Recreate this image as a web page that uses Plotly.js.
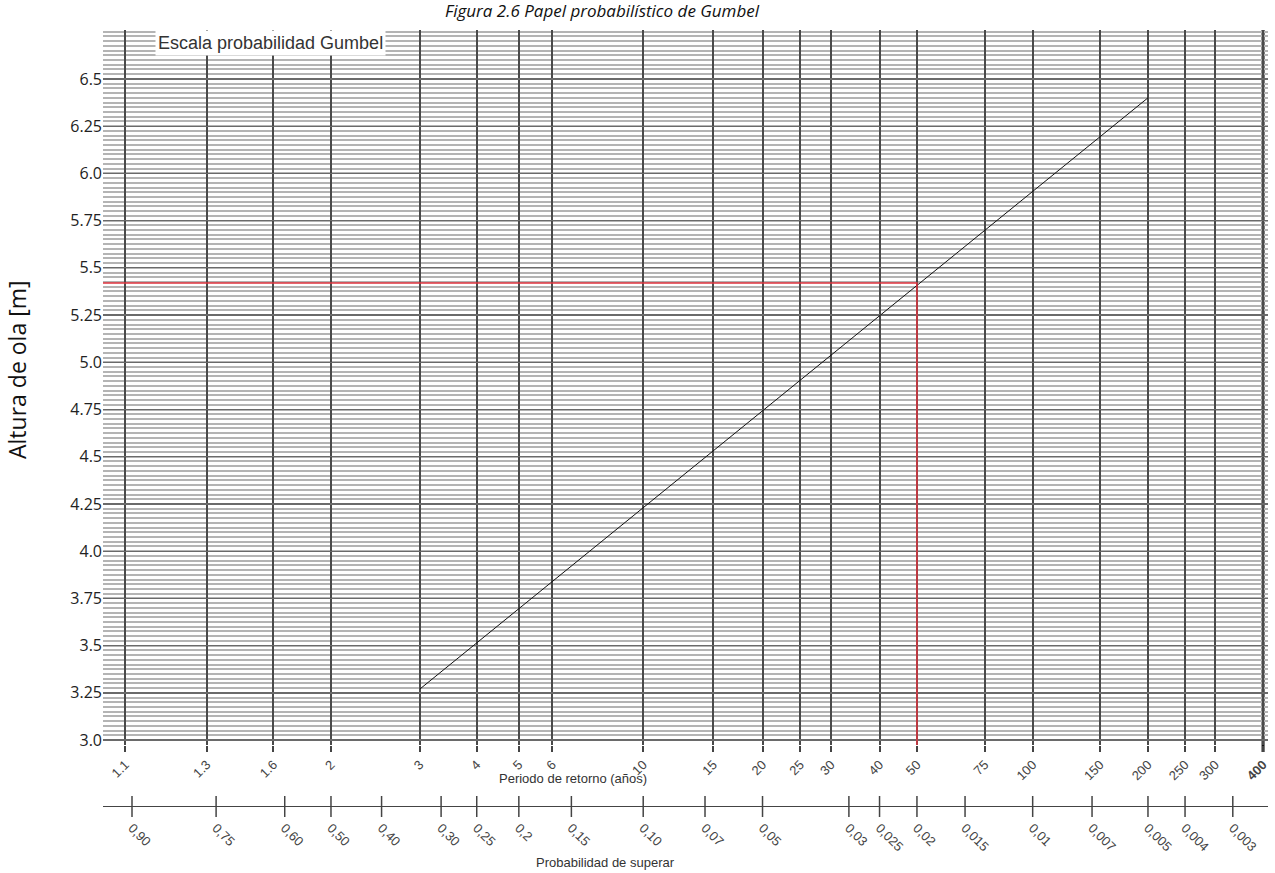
<!DOCTYPE html>
<html>
<head>
<meta charset="utf-8">
<script src="https://cdn.plot.ly/plotly-3.0.1.min.js"></script>
<style>html,body{margin:0;padding:0;background:#fff;}#chart{width:1275px;height:873px;}</style>
</head>
<body>
<div id="chart"></div>
<script>
// ---- data ----
const returnPeriods = [1.1, 1.3, 1.6, 2, 3, 4, 5, 6, 10, 15, 20, 25, 30, 40, 50, 75, 100, 150, 200, 250, 300, 400];
const periodLabels = ['1.1','1.3','1.6','2','3','4','5','6','10','15','20','25','30','40','50','75','100','150','200','250','300','<b>400</b>'];
const exceedProb = [0.90, 0.75, 0.60, 0.50, 0.40, 0.30, 0.25, 0.2, 0.15, 0.10, 0.07, 0.05, 0.03, 0.025, 0.02, 0.015, 0.01, 0.007, 0.005, 0.004, 0.003];
const probLabels = ['0,90','0,75','0,60','0,50','0,40','0,30','0,25','0,2','0,15','0,10','0,07','0,05','0,03','0,025','0,02','0,015','0,01','0,007','0,005','0,004','0,003'];
const heightTicks = [3.0, 3.25, 3.5, 3.75, 4.0, 4.25, 4.5, 4.75, 5.0, 5.25, 5.5, 5.75, 6.0, 6.25, 6.5];
const heightLabels = ['3.0','3.25','3.5','3.75','4.0','4.25','4.5','4.75','5.0','5.25','5.5','5.75','6.0','6.25','6.5'];
const strongLines = [3.0, 3.5, 4.0, 4.5, 5.0, 5.5, 6.0, 6.5];
const boldPeriod = 400;
const fitT = [3, 200];
const fitH = [3.27, 6.40];
const designT = 50;
const designH = 5.42;

// ---- Gumbel reduced variate ----
const gumbelT = T => -Math.log(-Math.log(1 - 1 / T));
const gumbelP = p => -Math.log(-Math.log(1 - p));

const xRange = [-1.009, 6.02];
const yRange = [2.974, 6.759];

const W = 1275, H = 873;
const mL = 103, mR = 7, mT = 30, mB = 56;
const plotH = H - mT - mB;     // 787
const plotW = W - mL - mR;     // 1165
const py = p => (H - mB - p) / plotH;   // pixel y -> paper
const px = p => (p - mL) / plotW;       // pixel x -> paper

const traces = [
  {
    x: fitT.map(gumbelT), y: fitH, mode: 'lines',
    line: {color: '#111', width: 1}, xaxis: 'x', yaxis: 'y', hoverinfo: 'skip'
  },
  {
    x: [xRange[0], gumbelT(designT), gumbelT(designT)],
    y: [designH, designH, yRange[0]],
    mode: 'lines', line: {color: '#e0343f', width: 1.5}, xaxis: 'x', yaxis: 'y', hoverinfo: 'skip'
  },
  {
    x: exceedProb.map(gumbelP), y: exceedProb.map(() => 0),
    mode: 'markers', marker: {symbol: 'line-ns-open', size: 20, color: '#444', line: {color: '#444', width: 1.5}},
    xaxis: 'x2', yaxis: 'y2', hoverinfo: 'skip'
  }
];

const shapes = strongLines.map(v => ({
  type: 'line', xref: 'paper', yref: 'y', x0: 0, x1: 1, y0: v, y1: v,
  line: {color: '#1a1a1a', width: 1.3}, layer: 'below'
}));
shapes.push({
  type: 'line', xref: 'x', yref: 'paper', x0: gumbelT(boldPeriod), x1: gumbelT(boldPeriod),
  y0: py(752), y1: 1, line: {color: '#111', width: 3}, layer: 'below'
});

const layout = {
  width: W, height: H,
  margin: {l: mL, r: mR, t: mT, b: mB},
  paper_bgcolor: '#fff', plot_bgcolor: '#fff',
  showlegend: false,
  font: {family: 'Arial, Liberation Sans, sans-serif', color: '#333'},
  annotations: [
    {
      text: '<i>Figura 2.6 Papel probabilístico de Gumbel</i>', xref: 'paper', yref: 'paper',
      x: px(443), y: py(11), xanchor: 'left', yanchor: 'middle', showarrow: false,
      font: {family: 'Open Sans, Noto Sans, sans-serif', size: 17, color: '#111'}
    },
    {
      text: 'Escala probabilidad Gumbel', xref: 'paper', yref: 'paper',
      x: px(155), y: py(43), xanchor: 'left', yanchor: 'middle', showarrow: false,
      bgcolor: '#fff', borderpad: 2,
      font: {family: 'Arial, Liberation Sans, sans-serif', size: 18, color: '#333'}
    },
    {
      text: 'Periodo de retorno (años)', xref: 'paper', yref: 'paper',
      x: px(573), y: py(778), xanchor: 'center', yanchor: 'middle', showarrow: false,
      font: {family: 'Arial, Liberation Sans, sans-serif', size: 13, color: '#333'}
    },
    {
      text: 'Probabilidad de superar', xref: 'paper', yref: 'paper',
      x: px(605), y: py(862), xanchor: 'center', yanchor: 'middle', showarrow: false,
      font: {family: 'Arial, Liberation Sans, sans-serif', size: 13, color: '#333'}
    },
    {
      text: 'Altura de ola [m]', xref: 'paper', yref: 'paper', textangle: -90,
      x: px(17), y: py(370), xanchor: 'center', yanchor: 'middle', showarrow: false,
      font: {family: 'Open Sans, Noto Sans, sans-serif', size: 23, color: '#111'}
    }
  ],
  xaxis: {
    domain: [0, 1], anchor: 'y', range: xRange,
    tickmode: 'array', tickvals: returnPeriods.map(gumbelT), ticktext: periodLabels,
    tickangle: -45, ticks: 'outside', ticklen: 6, tickcolor: '#444', tickwidth: 2,
    tickfont: {family: 'Arial, Liberation Sans, sans-serif', size: 13, color: '#444'},
    showgrid: true, gridcolor: '#4a4a4a', gridwidth: 2,
    zeroline: false, showline: false, fixedrange: true
  },
  yaxis: {
    domain: [(745 - (H - mB)) / -plotH, 1], anchor: 'x', range: yRange,
    tickmode: 'array', tickvals: heightTicks, ticktext: heightLabels,
    ticks: '', tickfont: {family: 'Open Sans, Noto Sans, sans-serif', size: 16, color: '#222'},
    showgrid: true, gridcolor: '#6a6a6a', gridwidth: 1.3,
    minor: {dtick: 0.025, tick0: 3.0, showgrid: true, gridcolor: '#b4b4b4', gridwidth: 2},
    zeroline: false, showline: false, fixedrange: true
  },
  xaxis2: {
    domain: [0, 1], anchor: 'y2', range: xRange,
    tickmode: 'array', tickvals: exceedProb.map(gumbelP), ticktext: probLabels,
    tickangle: 45, ticks: '', ticklabelstandoff: 0,
    tickfont: {family: 'Arial, Liberation Sans, sans-serif', size: 13, color: '#444'},
    showgrid: false, zeroline: false, showline: false, fixedrange: true
  },
  yaxis2: {
    domain: [0, 21 / plotH], anchor: 'x2', range: [-1, 1],
    showticklabels: false, ticks: '', showgrid: false,
    zeroline: true, zerolinecolor: '#444', zerolinewidth: 1.5, showline: false, fixedrange: true
  },
  shapes: shapes
};

Plotly.newPlot('chart', traces, layout, {displayModeBar: false, staticPlot: true});
</script>
</body>
</html>
